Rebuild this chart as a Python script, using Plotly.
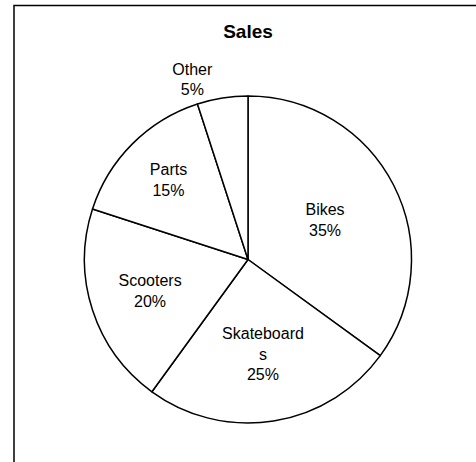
import plotly.graph_objects as go

categories = ["Bikes", "Skateboards", "Scooters", "Parts", "Other"]
display_labels = ["Bikes", "Skateboard<br>s", "Scooters", "Parts", "Other"]
values = [35, 25, 20, 15, 5]
text_positions = ["inside", "inside", "inside", "inside", "outside"]

W, H = 476, 462
cx, cy, R = 248, 259.5, 163.5

fig = go.Figure(
    go.Pie(
        labels=categories,
        values=values,
        text=display_labels,
        texttemplate="%{text}<br>%{percent:.0%}",
        textposition=text_positions,
        insidetextorientation="horizontal",
        sort=False,
        direction="clockwise",
        rotation=0,
        hole=0,
        marker=dict(colors=["white"] * len(values), line=dict(color="black", width=1.5)),
        textfont=dict(family="Liberation Sans, Arial, sans-serif", size=16, color="black"),
        domain=dict(x=[(cx - R) / W, (cx + R) / W], y=[1 - (cy + R) / H, 1 - (cy - R) / H]),
        showlegend=False,
        hoverinfo="label+percent",
    )
)

fig.update_layout(
    width=W,
    height=H,
    margin=dict(l=0, r=0, t=0, b=0),
    paper_bgcolor="white",
    plot_bgcolor="white",
    title=dict(
        text="<b>Sales</b>",
        x=cx / W,
        xanchor="center",
        y=1 - 31 / H,
        yanchor="middle",
        xref="paper",
        yref="container",
        font=dict(family="Liberation Sans, Arial, sans-serif", size=19, color="black"),
    ),
    shapes=[
        dict(type="rect", xref="paper", yref="paper",
             x0=14 / W, x1=1.05, y0=-0.05, y1=1 - 5.5 / H,
             line=dict(color="black", width=1.5), fillcolor="rgba(0,0,0,0)")
    ],
)

fig.write_html(
    "out.html",
    config={"displayModeBar": False},
    post_script="document.body.style.margin='0';document.documentElement.style.margin='0';document.body.style.overflow='hidden';",
)
